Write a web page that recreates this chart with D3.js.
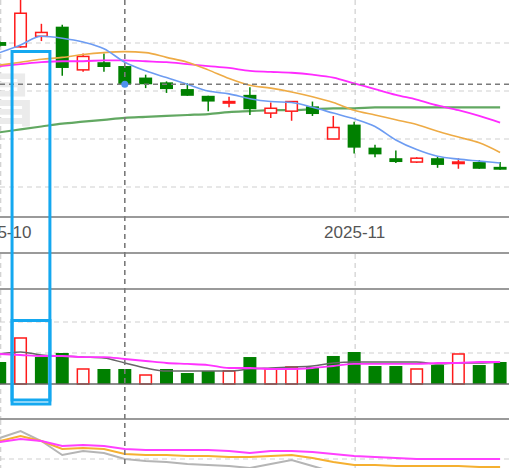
<!DOCTYPE html>
<html><head><meta charset="utf-8">
<script src="https://cdn.jsdelivr.net/npm/d3@7"></script>
<style>html,body{margin:0;padding:0;background:#fff;overflow:hidden;}svg{display:block;}</style>
</head><body>
<svg id="c" width="509" height="468"></svg>
<script>
// ---------- data ----------
const dates = ["2025-10-09","2025-10-10","2025-10-13","2025-10-14","2025-10-15","2025-10-16","2025-10-17",
  "2025-10-20","2025-10-21","2025-10-22","2025-10-23","2025-10-24","2025-10-27","2025-10-28","2025-10-29",
  "2025-10-30","2025-10-31","2025-11-03","2025-11-04","2025-11-05","2025-11-06","2025-11-07","2025-11-10",
  "2025-11-11","2025-11-12"];
const prevClose = 12.05;
const open  = [12.01,11.96,12.07,12.17,11.72,11.80,11.76,11.64,11.59,11.52,11.45,11.38,11.46,11.27,11.29,11.34,11.00,11.15,10.91,10.80,10.76,10.80,10.75,10.76,10.71];
const high  = [12.02,12.53,12.20,12.19,11.89,11.89,11.76,11.67,11.60,11.58,11.45,11.44,11.54,11.38,11.39,11.39,11.24,11.18,10.94,10.88,10.81,10.82,10.80,10.78,10.76];
const low   = [11.96,11.95,12.02,11.66,11.70,11.70,11.56,11.53,11.48,11.45,11.29,11.33,11.25,11.22,11.19,11.24,11.00,10.85,10.81,10.75,10.75,10.70,10.69,10.69,10.68];
const close = [11.97,12.31,12.11,11.74,11.86,11.75,11.57,11.57,11.52,11.45,11.39,11.39,11.31,11.32,11.39,11.26,11.12,10.91,10.84,10.76,10.80,10.73,10.76,10.69,10.68];
const ma5   = [11.90,11.98,12.07,12.05,12.01,11.94,11.80,11.71,11.64,11.57,11.50,11.47,11.42,11.39,11.38,11.33,11.27,11.21,11.13,10.99,10.89,10.82,10.79,10.77,10.75];
const ma10  = [11.77,11.80,11.83,11.85,11.88,11.90,11.91,11.90,11.85,11.80,11.72,11.63,11.56,11.53,11.49,11.44,11.38,11.30,11.25,11.20,11.15,11.08,11.02,10.96,10.86];
const ma20  = [11.76,11.78,11.80,11.81,11.81,11.82,11.82,11.81,11.80,11.78,11.76,11.74,11.71,11.70,11.69,11.67,11.64,11.58,11.52,11.46,11.41,11.35,11.30,11.24,11.17];
const ma60  = [11.07,11.10,11.13,11.16,11.18,11.20,11.22,11.23,11.24,11.25,11.26,11.28,11.29,11.30,11.30,11.31,11.32,11.32,11.33,11.33,11.33,11.33,11.33,11.33,11.33];
const volume  = [35.5,74.2,43.5,50,24.2,24.2,24.2,14.5,24.2,17.7,21,21,43.5,24.2,27.4,27.4,45.2,51.6,29,29,24.2,30.6,48.4,30.6,35.5];
const volMa5  = [48.4,51.6,46.8,45.2,43.5,41.9,33.9,25.8,21,21,21,21,24.2,25.8,27.4,29,33.9,35.5,35.5,35.5,35.5,32.3,33.9,33.9,35.5];
const volMa10 = [48.4,46.8,45.2,45.2,43.5,43.5,40.3,37.1,33.9,32.3,30.6,25.8,25.8,24.2,24.2,25.8,29,32.3,32.3,32.3,32.3,33.9,33.9,35.5,35.5];
const kdjK = [56,66,56,40,42,40,30,28,28,26,26,24,24,26,28,22,14,8,8,6,6,6,6,4,4];
const kdjD = [54,60,56,46,48,46,40,38,38,38,38,36,32,36,36,34,30,26,24,22,20,20,20,20,20];
const kdjJ = [62,76,56,28,36,32,20,16,14,10,8,6,2,10,18,6,-6,-14,-18,-22,-22,-26,-26,-28,-30];
const priceTicks = [12.0, 11.5, 11.0, 10.5];
const volTicks = [50, 100];
const kdjTicks = [20];
const monthTickDates = ["2025-10-09","2025-11-03"];
const monthTickLabels = ["2025-10","2025-11"];
const crossIndex = 6;
const boxFrom = 1, boxTo = 2;

// ---------- layout ----------
const W = 509, H = 468;
const svg = d3.select("#c");
svg.append("rect").attr("width", W).attr("height", H).attr("fill", "#fff");

const x = d3.scalePoint().domain(dates).range([-0.3, 500.1]);
const yP = d3.scaleLinear().domain([10.5, 12.0]).range([187, 43]);
const yV = d3.scaleLinear().domain([0, 100]).range([384, 322]);
const yK = d3.scaleLinear().domain([0, 100]).range([469, 419]);

const bodyW = 13;
const RED = "#ff1a1a", GREEN = "#008000";
const gridColor = "#cfcfcf";

const defs = svg.append("defs");
function clip(id, y0, y1) {
  defs.append("clipPath").attr("id", id).append("rect").attr("x", 0).attr("y", y0).attr("width", W).attr("height", y1 - y0);
  return svg.append("g").attr("clip-path", `url(#${id})`);
}
const gTop = clip("cTop", 0, 216);
const gBand = clip("cBand", 254, 288);
const gVol = clip("cVol", 290, 418);
const gInd = clip("cInd", 420, 468);

// ---------- grid ----------
[[gTop,0,216],[gBand,254,288],[gVol,290,418],[gInd,420,468]].forEach(([g,a,b]) => {
  g.selectAll(null).data(monthTickDates).enter().append("line")
    .attr("x1", d => x(d) + 1).attr("x2", d => x(d) + 1)
    .attr("y1", a).attr("y2", b)
    .attr("stroke", gridColor).attr("stroke-width", 1.2).attr("stroke-dasharray", "5,4");
});
gTop.selectAll(null).data(priceTicks).enter().append("line")
  .attr("x1", 0).attr("x2", W).attr("y1", d => yP(d)).attr("y2", d => yP(d))
  .attr("stroke", gridColor).attr("stroke-width", 1.2).attr("stroke-dasharray", "5,4");
gVol.selectAll(null).data(volTicks).enter().append("line")
  .attr("x1", 0).attr("x2", W).attr("y1", d => yV(d)).attr("y2", d => yV(d))
  .attr("stroke", gridColor).attr("stroke-width", 1.2).attr("stroke-dasharray", "5,4");
gInd.selectAll(null).data(kdjTicks).enter().append("line")
  .attr("x1", 0).attr("x2", W).attr("y1", d => yK(d)).attr("y2", d => yK(d))
  .attr("stroke", gridColor).attr("stroke-width", 1.2).attr("stroke-dasharray", "5,4");

// watermark
gTop.append("text").attr("x", 36).attr("y", 121).attr("text-anchor", "end")
  .attr("font-family", "Noto Sans CJK SC").attr("font-weight", "bold").attr("font-size", 58)
  .attr("fill", "#ebebeb").text("昌");

// ---------- MA lines (top) ----------
const lineP = d3.line().x((d, i) => x(dates[i])).y(d => yP(d)).curve(d3.curveMonotoneX);
gTop.append("path").attr("d", lineP(ma60)).attr("fill", "none").attr("stroke", "#2e8b2e").attr("stroke-opacity", 0.75).attr("stroke-width", 2.2);

// ---------- candles ----------
const idx = d3.range(dates.length);
const cg = gTop.append("g");
cg.selectAll("line.w").data(idx).enter().append("line")
  .attr("x1", i => x(dates[i])).attr("x2", i => x(dates[i]))
  .attr("y1", i => yP(high[i])).attr("y2", i => yP(low[i]))
  .attr("stroke", i => close[i] >= open[i] ? RED : GREEN).attr("stroke-width", 1.5);
cg.selectAll("rect.b").data(idx).enter().append("rect")
  .attr("x", i => x(dates[i]) - bodyW / 2 + (close[i] >= open[i] ? 0.75 : 0))
  .attr("width", i => close[i] >= open[i] ? bodyW - 1.5 : bodyW)
  .attr("y", i => yP(Math.max(open[i], close[i])))
  .attr("height", i => Math.max(1.5, Math.abs(yP(open[i]) - yP(close[i]))))
  .attr("fill", i => close[i] >= open[i] ? "#fff" : GREEN)
  .attr("stroke", i => close[i] >= open[i] ? RED : "none")
  .attr("stroke-width", 1.5);

gTop.append("path").attr("d", lineP(ma20)).attr("fill", "none").attr("stroke", "#ff2bff").attr("stroke-width", 1.8);
gTop.append("path").attr("d", lineP(ma10)).attr("fill", "none").attr("stroke", "#eeab45").attr("stroke-width", 1.6);
gTop.append("path").attr("d", lineP(ma5)).attr("fill", "none").attr("stroke", "#6d9cf2").attr("stroke-width", 1.6);

// ---------- volume ----------
const up = i => close[i] >= (i === 0 ? prevClose : close[i - 1]);
gVol.selectAll("rect.v").data(idx).enter().append("rect")
  .attr("x", i => x(dates[i]) - bodyW / 2 + (up(i) ? 0.75 : 0))
  .attr("width", i => up(i) ? bodyW - 1.5 : bodyW)
  .attr("y", i => yV(volume[i]))
  .attr("height", i => yV(0) - yV(volume[i]))
  .attr("fill", i => up(i) ? "#fff" : GREEN)
  .attr("stroke", i => up(i) ? RED : "none")
  .attr("stroke-width", 1.5);
gVol.append("line").attr("x1", 0).attr("x2", W).attr("y1", yV(0)).attr("y2", yV(0)).attr("stroke", "#666").attr("stroke-width", 1.5);
const lineV = d3.line().x((d, i) => x(dates[i])).y(d => yV(d)).curve(d3.curveMonotoneX);
gVol.append("path").attr("d", lineV(volMa5)).attr("fill", "none").attr("stroke", "#666").attr("stroke-width", 1.5);
gVol.append("path").attr("d", lineV(volMa10)).attr("fill", "none").attr("stroke", "#ff33ff").attr("stroke-width", 1.8);

// ---------- indicator ----------
const lineK = d3.line().x((d, i) => x(dates[i])).y(d => yK(d));
gInd.append("path").attr("d", lineK(kdjJ)).attr("fill", "none").attr("stroke", "#b5b5b5").attr("stroke-width", 2);
gInd.append("path").attr("d", lineK(kdjK)).attr("fill", "none").attr("stroke", "#f5b030").attr("stroke-width", 2);
gInd.append("path").attr("d", lineK(kdjD)).attr("fill", "none").attr("stroke", "#ff40ff").attr("stroke-width", 2);

// ---------- separators & axis ----------
[217, 253, 289, 419].forEach(y => {
  svg.append("line").attr("x1", 0).attr("x2", W).attr("y1", y).attr("y2", y).attr("stroke", "#9a9a9a").attr("stroke-width", 2);
});
const axis = d3.axisBottom(x).tickValues(monthTickDates)
  .tickFormat(d => monthTickLabels[monthTickDates.indexOf(d)]).tickSize(0).tickPadding(9);
const ag = svg.append("g").attr("transform", "translate(0,217)").call(axis);
ag.select(".domain").remove();
ag.selectAll("text").attr("font-family", "Liberation Sans, Arial, sans-serif").attr("font-size", 17).attr("fill", "#555");

// ---------- crosshair ----------
const cx = x(dates[crossIndex]), cy = yP(close[crossIndex]);
svg.append("line").attr("x1", cx).attr("x2", cx).attr("y1", 0).attr("y2", H)
  .attr("stroke", "#7a7a7a").attr("stroke-width", 1.6).attr("stroke-dasharray", "5,4");
svg.append("line").attr("x1", 0).attr("x2", W).attr("y1", cy).attr("y2", cy)
  .attr("stroke", "#7a7a7a").attr("stroke-width", 1.6).attr("stroke-dasharray", "5,4");
svg.append("circle").attr("cx", cx).attr("cy", cy).attr("r", 3.5).attr("fill", "#4f93ee");

// ---------- highlight boxes ----------
const bx0 = x(dates[boxFrom]) - 8.5, bx1 = x(dates[boxTo]) + 8.5;
svg.append("rect").attr("x", bx0).attr("y", 51.5).attr("width", bx1 - bx0).attr("height", 352.5)
  .attr("fill", "none").attr("stroke", "#14a8f0").attr("stroke-width", 3);
svg.append("rect").attr("x", bx0).attr("y", 320.5).attr("width", bx1 - bx0).attr("height", 79.5)
  .attr("fill", "none").attr("stroke", "#14a8f0").attr("stroke-width", 3);
</script>
</body></html>
